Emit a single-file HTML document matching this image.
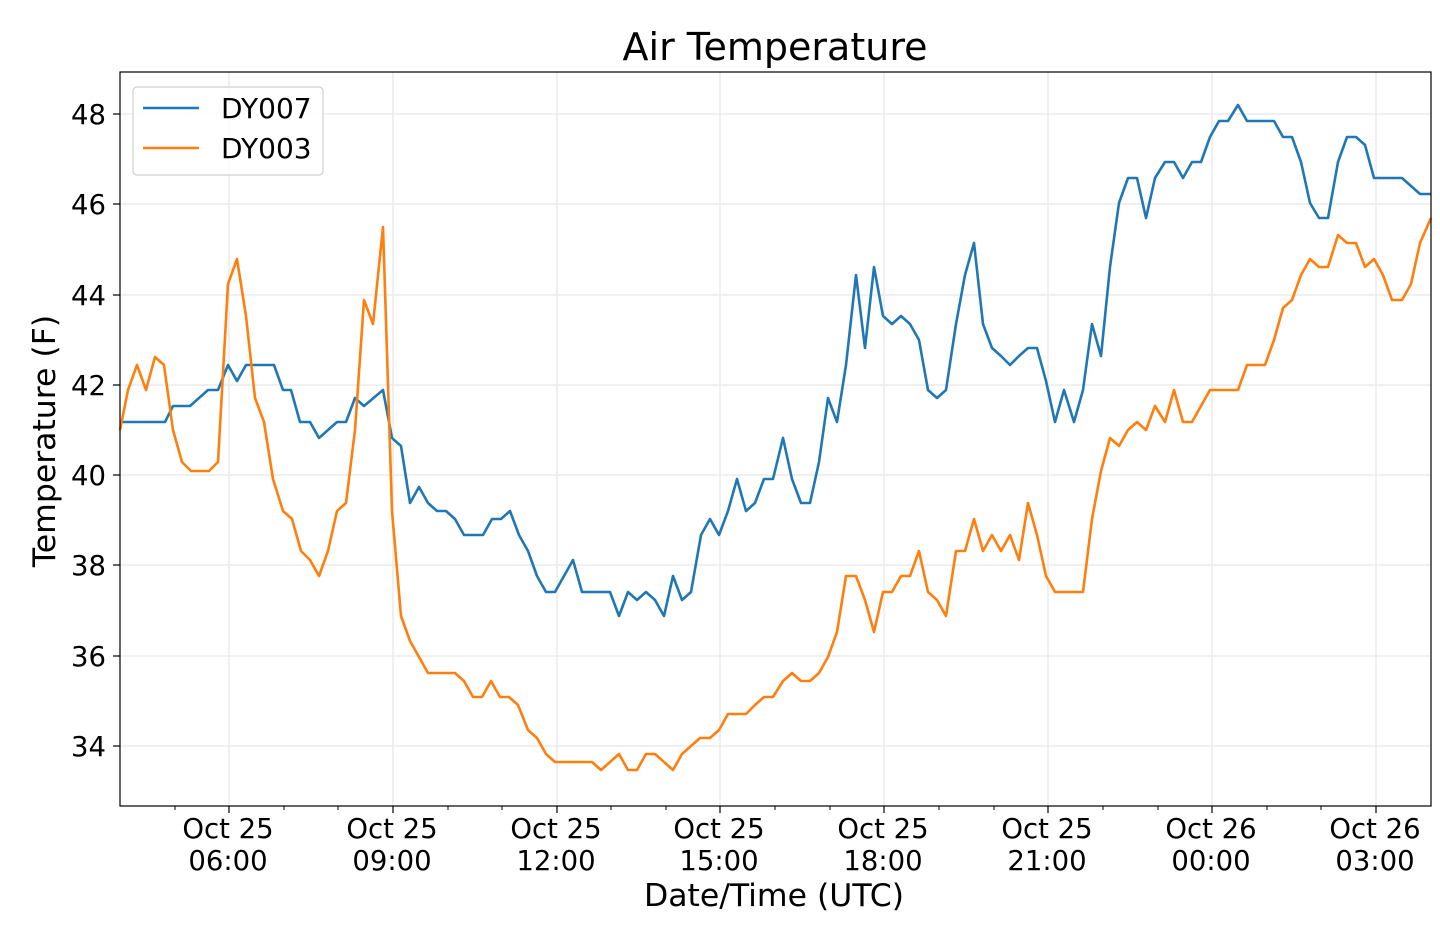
<!DOCTYPE html>
<html><head><meta charset="utf-8"><style>
html,body{margin:0;padding:0;background:#fff;}
svg{display:block;font-family:"DejaVu Sans","Liberation Sans",sans-serif;}
</style></head><body>
<svg width="1440" height="940" viewBox="0 0 1440 940" xmlns="http://www.w3.org/2000/svg">
<rect width="1440" height="940" fill="#fff"/>
<g stroke="#ebebeb" stroke-width="1.5">
<line x1="229" y1="72" x2="229" y2="806"/><line x1="393" y1="72" x2="393" y2="806"/>
<line x1="557" y1="72" x2="557" y2="806"/><line x1="720" y1="72" x2="720" y2="806"/>
<line x1="884" y1="72" x2="884" y2="806"/><line x1="1048" y1="72" x2="1048" y2="806"/>
<line x1="1212" y1="72" x2="1212" y2="806"/><line x1="1376" y1="72" x2="1376" y2="806"/>
<line x1="120" y1="114" x2="1431" y2="114"/><line x1="120" y1="204" x2="1431" y2="204"/>
<line x1="120" y1="295" x2="1431" y2="295"/><line x1="120" y1="385" x2="1431" y2="385"/>
<line x1="120" y1="475" x2="1431" y2="475"/><line x1="120" y1="565" x2="1431" y2="565"/>
<line x1="120" y1="656" x2="1431" y2="656"/><line x1="120" y1="746" x2="1431" y2="746"/>
</g>
<polyline fill="none" stroke="#1f77b4" stroke-width="2.6" stroke-linejoin="round" points="120,422 165,422 173,406 190,406 208,390 218,390 228,365 237,381 246,365 274,365 283,390 291,390 300,422 310,422 319,438 337,422 346,422 355,398 364,406 383,390 392,438 401,446 410,503 419,487 428,503 437,511 446,511 455,519 464,535 483,535 492,519 501,519 510,511 519,535 528,551 537,576 546,592 555,592 573,560 582,592 610,592 619,616 628,592 637,600 646,592 655,600 664,616 673,576 682,600 691,592 701,535 710,519 719,535 728,511 737,479 746,511 755,503 764,479 773,479 783,438 792,479 801,503 810,503 819,462 828,398 837,422 846,365 856,275 865,348 874,267 883,316 892,324 901,316 910,324 919,340 928,390 937,398 946,390 956,324 965,275 974,243 983,324 992,348 1001,356 1010,365 1019,356 1028,348 1037,348 1046,381 1055,422 1064,390 1074,422 1083,390 1092,324 1101,356 1110,267 1119,203 1128,178 1137,178 1146,218 1155,178 1165,162 1174,162 1183,178 1192,162 1201,162 1210,137 1219,121 1228,121 1238,105 1247,121 1274,121 1283,137 1292,137 1301,162 1310,203 1319,218 1328,218 1338,162 1347,137 1356,137 1365,145 1374,178 1402,178 1420,194 1431,194"/>
<polyline fill="none" stroke="#ff7f0e" stroke-width="2.6" stroke-linejoin="round" points="120,430 128,390 137,365 146,390 155,357 164,365 173,430 182,462 191,471 209,471 218,462 228,284 237,259 246,316 255,398 264,422 273,479 283,511 292,519 301,551 310,560 319,576 328,551 337,511 346,503 355,430 364,300 373,324 383,227 392,511 401,616 410,641 419,657 428,673 455,673 464,681 473,697 482,697 491,681 500,697 509,697 518,705 528,730 537,738 546,754 555,762 592,762 601,770 619,754 628,770 637,770 646,754 655,754 673,770 682,754 700,738 710,738 719,730 728,714 746,714 755,705 764,697 773,697 783,681 792,673 801,681 810,681 819,673 828,657 837,632 846,576 856,576 865,600 874,632 883,592 892,592 901,576 910,576 919,551 928,592 937,600 946,616 956,551 965,551 974,519 983,551 992,535 1001,551 1010,535 1019,560 1028,503 1037,535 1046,576 1055,592 1083,592 1092,519 1101,471 1110,438 1119,446 1128,430 1137,422 1146,430 1155,406 1165,422 1174,390 1183,422 1192,422 1201,406 1210,390 1238,390 1247,365 1265,365 1274,340 1283,308 1292,300 1301,275 1310,259 1319,267 1328,267 1338,235 1347,243 1356,243 1365,267 1374,259 1383,275 1392,300 1402,300 1411,284 1420,243 1431,218"/>
<rect x="120" y="72" width="1311" height="734" fill="none" stroke="#000" stroke-width="1.2"/>
<g stroke="#000" stroke-width="1.2">
<line x1="113" y1="114" x2="120" y2="114"/><line x1="113" y1="204" x2="120" y2="204"/>
<line x1="113" y1="295" x2="120" y2="295"/><line x1="113" y1="385" x2="120" y2="385"/>
<line x1="113" y1="475" x2="120" y2="475"/><line x1="113" y1="565" x2="120" y2="565"/>
<line x1="113" y1="656" x2="120" y2="656"/><line x1="113" y1="746" x2="120" y2="746"/>
<line x1="229" y1="806" x2="229" y2="813"/><line x1="393" y1="806" x2="393" y2="813"/>
<line x1="557" y1="806" x2="557" y2="813"/><line x1="720" y1="806" x2="720" y2="813"/>
<line x1="884" y1="806" x2="884" y2="813"/><line x1="1048" y1="806" x2="1048" y2="813"/>
<line x1="1212" y1="806" x2="1212" y2="813"/><line x1="1376" y1="806" x2="1376" y2="813"/>
</g>
<g stroke="#000" stroke-width="1">
<line x1="175" y1="806" x2="175" y2="810"/><line x1="284" y1="806" x2="284" y2="810"/><line x1="338" y1="806" x2="338" y2="810"/>
<line x1="448" y1="806" x2="448" y2="810"/><line x1="502" y1="806" x2="502" y2="810"/><line x1="611" y1="806" x2="611" y2="810"/>
<line x1="666" y1="806" x2="666" y2="810"/><line x1="775" y1="806" x2="775" y2="810"/><line x1="830" y1="806" x2="830" y2="810"/>
<line x1="939" y1="806" x2="939" y2="810"/><line x1="994" y1="806" x2="994" y2="810"/><line x1="1103" y1="806" x2="1103" y2="810"/>
<line x1="1158" y1="806" x2="1158" y2="810"/><line x1="1267" y1="806" x2="1267" y2="810"/><line x1="1321" y1="806" x2="1321" y2="810"/>
</g>
<g font-size="27.5" fill="#000" text-anchor="end">
<text x="106" y="124">48</text><text x="106" y="214">46</text><text x="106" y="305">44</text>
<text x="106" y="395">42</text><text x="106" y="485">40</text><text x="106" y="575">38</text>
<text x="106" y="666">36</text><text x="106" y="756">34</text>
</g>
<g font-size="27.5" fill="#000" text-anchor="middle">
<text x="228" y="838">Oct 25</text><text x="228" y="870">06:00</text>
<text x="392" y="838">Oct 25</text><text x="392" y="870">09:00</text>
<text x="556" y="838">Oct 25</text><text x="556" y="870">12:00</text>
<text x="719" y="838">Oct 25</text><text x="719" y="870">15:00</text>
<text x="883" y="838">Oct 25</text><text x="883" y="870">18:00</text>
<text x="1047" y="838">Oct 25</text><text x="1047" y="870">21:00</text>
<text x="1211" y="838">Oct 26</text><text x="1211" y="870">00:00</text>
<text x="1375" y="838">Oct 26</text><text x="1375" y="870">03:00</text>
<text x="774" y="906" font-size="31.5">Date/Time (UTC)</text>
<text x="775" y="60" font-size="38">Air Temperature</text>
<text transform="translate(55,441) rotate(-90)" font-size="31.5">Temperature (F)</text>
</g>
<rect x="133" y="87" width="190" height="88" rx="4" fill="#fff" fill-opacity="0.85" stroke="#d0d0d0" stroke-width="1.2"/>
<line x1="143" y1="108" x2="199" y2="108" stroke="#1f77b4" stroke-width="2.6"/>
<line x1="143" y1="148" x2="199" y2="148" stroke="#ff7f0e" stroke-width="2.6"/>
<text x="221" y="118" font-size="28">DY007</text>
<text x="221" y="158" font-size="28">DY003</text>
</svg>
</body></html>
